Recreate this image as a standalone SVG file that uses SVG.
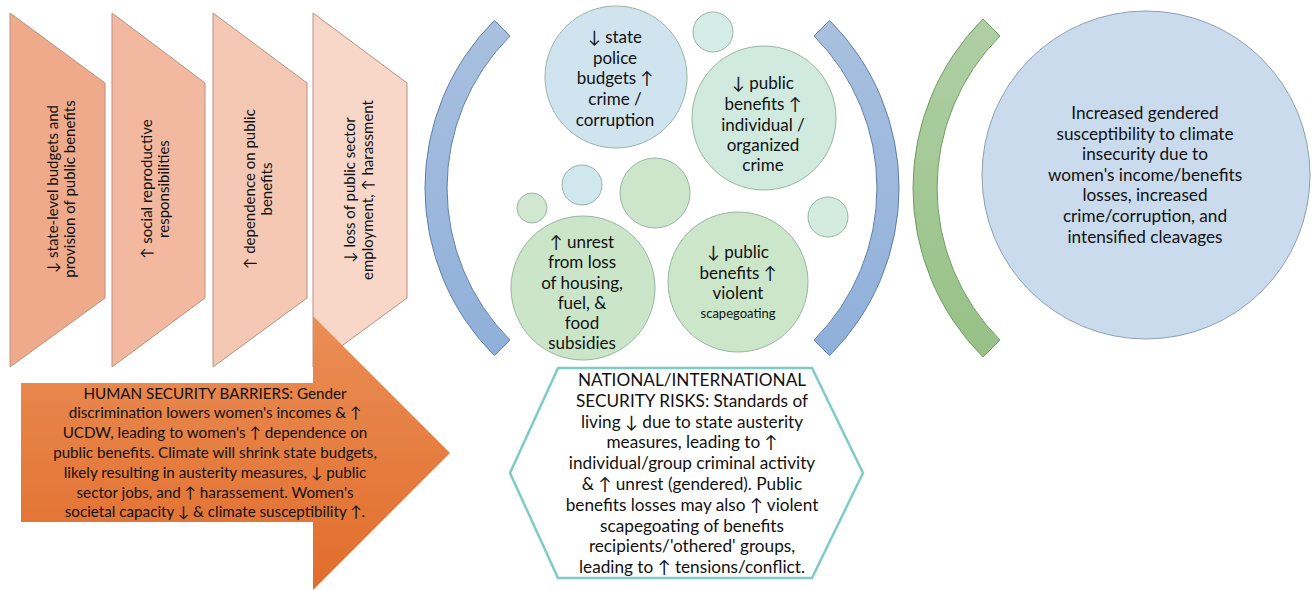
<svg xmlns="http://www.w3.org/2000/svg" width="1314" height="590" viewBox="0 0 1314 590">
<defs>
<linearGradient id="gOrange" x1="0" y1="0" x2="0" y2="1">
<stop offset="0" stop-color="#EA8E56"/>
<stop offset="1" stop-color="#E16D2B"/>
</linearGradient>
<linearGradient id="gBlueArc" x1="0" y1="0" x2="0" y2="1">
<stop offset="0" stop-color="#A9C0DF"/>
<stop offset="1" stop-color="#8FB0DA"/>
</linearGradient>
<linearGradient id="gGreenArc" x1="0" y1="0" x2="0" y2="1">
<stop offset="0" stop-color="#AFCFA4"/>
<stop offset="1" stop-color="#97C186"/>
</linearGradient>
<style>
text{font-family:Lato,"Liberation Sans",sans-serif;fill:#111;}
.trap{stroke:#B99080;stroke-width:1;}
.tt{font-size:15px;text-anchor:middle;}
.ct{font-size:17px;text-anchor:middle;}
.bt{font-size:17.2px;text-anchor:middle;}
.at{font-size:15.2px;text-anchor:middle;}
.bub{stroke:#9AB3A4;stroke-width:1;}
.arc{stroke:#5F7FA8;stroke-width:1;}
</style>
</defs>
<g id="barrier1">
<polygon class="trap" fill="#EEAA8B" points="10,13 105,83 105,298 10,367"/>
<text class="tt" transform="translate(58,189) rotate(-90)"><tspan x="0" dy="0">↓ state-level budgets and</tspan><tspan x="0" dy="17">provision of public benefits</tspan></text>
</g>
<g id="barrier2">
<polygon class="trap" fill="#F2B9A0" points="112,13 205,83 205,298 112,367"/>
<text class="tt" transform="translate(152,189) rotate(-90)"><tspan x="0" dy="0">↑ social reproductive</tspan><tspan x="0" dy="17">responsibilities</tspan></text>
</g>
<g id="barrier3">
<polygon class="trap" fill="#F5C8B4" points="213,13 307,83 307,298 213,367"/>
<text class="tt" transform="translate(255,189) rotate(-90)"><tspan x="0" dy="0">↑ dependence on public</tspan><tspan x="0" dy="17">benefits</tspan></text>
</g>
<g id="barrier4">
<polygon class="trap" fill="#F8D6C8" points="313,13 407,83 407,298 313,367"/>
<text class="tt" transform="translate(355,190) rotate(-90)"><tspan x="0" dy="0">↓ loss of public sector</tspan><tspan x="0" dy="18">employment, ↑ harassment</tspan></text>
</g>
<g id="human-security-arrow">
<polygon fill="url(#gOrange)" points="21,383 313,383 313,316 450,453 313,590 313,522 21,522"/>
<text class="at" x="215" y="398.5"><tspan x="215" dy="0">HUMAN SECURITY BARRIERS: Gender</tspan><tspan x="215" dy="19.8">discrimination lowers women's incomes &amp; ↑</tspan><tspan x="215" dy="19.8">UCDW, leading to women's ↑ dependence on</tspan><tspan x="215" dy="19.8">public benefits. Climate will shrink state budgets,</tspan><tspan x="215" dy="19.8">likely resulting in austerity measures, ↓ public</tspan><tspan x="215" dy="19.8">sector jobs, and ↑ harassement. Women's</tspan><tspan x="215" dy="19.8">societal capacity ↓ &amp; climate susceptibility ↑.</tspan></text>
</g>
<g id="brackets">
<path class="arc" fill="url(#gBlueArc)" d="M494.4,20.4 A237,237 0 0 0 494.4,355.6 L510,340 A215,215 0 0 1 510,36 Z"/>
<path class="arc" fill="url(#gBlueArc)" d="M829.6,20.4 A237,237 0 0 1 829.6,355.6 L814,340 A215,215 0 0 0 814,36 Z"/>
<path stroke="#6E9A5E" stroke-width="1" fill="url(#gGreenArc)" d="M983,19 A239,239 0 0 0 983,357 L1000,340 A215,215 0 0 1 1000,36 Z"/>
</g>
<g id="bubbles-small">
<circle class="bub" cx="713" cy="32" r="20" fill="#D4ECE6"/>
<circle class="bub" cx="582" cy="185" r="20" fill="#D0E7EE"/>
<circle class="bub" cx="532" cy="208" r="15" fill="#D2E7CF"/>
<circle class="bub" cx="655" cy="193" r="35" fill="#CDE6CB"/>
<circle class="bub" cx="828" cy="217" r="20" fill="#D3EBE0"/>
</g>
<g id="risk-police">
<circle class="bub" cx="616" cy="77" r="71" fill="#D0E4F0" stroke="#93A9B8"/>
<text class="ct"><tspan x="615" y="43">↓ state</tspan><tspan x="615" y="63.5">police</tspan><tspan x="615" y="84">budgets ↑</tspan><tspan x="615" y="104.5">crime /</tspan><tspan x="615" y="126">corruption</tspan></text>
</g>
<g id="risk-crime">
<circle class="bub" cx="764" cy="118" r="72" fill="#D0EADF"/>
<text class="ct"><tspan x="763" y="89">↓ public</tspan><tspan x="763" y="110">benefits ↑</tspan><tspan x="763" y="131">individual /</tspan><tspan x="763" y="151">organized</tspan><tspan x="763" y="171">crime</tspan></text>
</g>
<g id="risk-unrest">
<circle class="bub" cx="583" cy="288" r="72" fill="#CAE5C8"/>
<text class="ct"><tspan x="582" y="248">↑ unrest</tspan><tspan x="582" y="268">from loss</tspan><tspan x="582" y="288.5">of housing,</tspan><tspan x="582" y="309">fuel, &amp;</tspan><tspan x="582" y="329">food</tspan><tspan x="582" y="349">subsidies</tspan></text>
</g>
<g id="risk-scapegoating">
<circle class="bub" cx="738" cy="282" r="70" fill="#CBE6C9"/>
<text class="ct"><tspan x="738" y="258">↓ public</tspan><tspan x="738" y="279">benefits ↑</tspan><tspan x="738" y="299">violent</tspan><tspan x="738" y="318" style="font-size:13px">scapegoating</tspan></text>
</g>
<g id="national-risks">
<polygon fill="#FFFFFF" stroke="#7FCBC6" stroke-width="2.5" points="558,368 812,368 863,473 812,578 558,578 510,473"/>
<text class="bt"><tspan x="692" y="386">NATIONAL/INTERNATIONAL</tspan><tspan x="692" y="406.8">SECURITY RISKS: Standards of</tspan><tspan x="692" y="427.6">living ↓ due to state austerity</tspan><tspan x="692" y="448.4">measures, leading to ↑</tspan><tspan x="692" y="469.2">individual/group criminal activity</tspan><tspan x="692" y="490">&amp; ↑ unrest (gendered). Public</tspan><tspan x="692" y="510.8">benefits losses may also ↑ violent</tspan><tspan x="692" y="531.6">scapegoating of benefits</tspan><tspan x="692" y="552.4">recipients/'othered' groups,</tspan><tspan x="692" y="573.2">leading to ↑ tensions/conflict.</tspan></text>
</g>
<g id="outcome">
<circle cx="1146" cy="175" r="164" fill="#CADBED" stroke="#8C9FB4" stroke-width="1"/>
<text class="bt"><tspan x="1145" y="119">Increased gendered</tspan><tspan x="1145" y="139.6">susceptibility to climate</tspan><tspan x="1145" y="160.2">insecurity due to</tspan><tspan x="1145" y="180.8">women's income/benefits</tspan><tspan x="1145" y="201.4">losses, increased</tspan><tspan x="1145" y="222">crime/corruption, and</tspan><tspan x="1145" y="242.6">intensified cleavages</tspan></text>
</g>
</svg>
